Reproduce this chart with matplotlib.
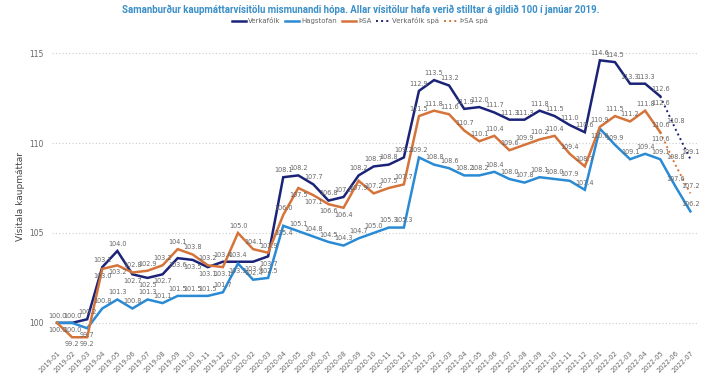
import matplotlib.pyplot as plt
import numpy as np

# months 2019-01 .. 2022-07
months = [f"{y}-{m:02d}" for y in range(2019, 2023) for m in range(1, 13)][:43]

verkafolk = [100.0, 100.0, 100.2, 103.1, 104.0, 102.7, 102.5, 102.7, 103.6, 103.5,
             103.1, 103.4, 103.4, 103.4, 103.7, 108.1, 108.2, 107.7, 106.8, 107.0,
             108.2, 108.7, 108.8, 109.2, 112.9, 113.5, 113.2, 111.9, 112.0, 111.7,
             111.3, 111.3, 111.8, 111.5, 111.0, 110.6, 114.6, 114.5, 113.3, 113.3,
             112.6]
hagstofan = [100.0, 100.0, 99.7, 100.8, 101.3, 100.8, 101.3, 101.1, 101.5, 101.5,
             101.5, 101.7, 103.3, 102.4, 102.5, 105.4, 105.1, 104.8, 104.5, 104.3,
             104.7, 105.0, 105.3, 105.3, 109.2, 108.8, 108.6, 108.2, 108.2, 108.4,
             108.0, 107.8, 108.1, 108.0, 107.9, 107.4, 110.8, 109.9, 109.1, 109.4,
             109.1, 107.6, 106.2]
thsa = [100.0, 99.2, 99.2, 103.0, 103.2, 102.8, 102.9, 103.2, 104.1, 103.8,
        103.2, 103.1, 105.0, 104.1, 103.9, 106.0, 107.5, 107.1, 106.6, 106.4,
        107.9, 107.2, 107.5, 107.7, 111.5, 111.8, 111.6, 110.7, 110.1, 110.4,
        109.6, 109.9, 110.2, 110.4, 109.4, 108.7, 110.9, 111.5, 111.2, 111.8,
        110.6]
verkafolk_spa = [112.6, 110.8, 109.1]   # 2022-05 .. 2022-07
thsa_spa = [110.6, 108.8, 107.2]

NAVY = "#1b2378"
LBLUE = "#2a8ad4"
ORANGE = "#d5743a"
GREY = "#666666"

fig = plt.figure(figsize=(7.13, 3.84), dpi=100)
ax = fig.add_axes([0.073, 0.103, 0.905, 0.768])

x_all = np.arange(len(months))
spa_x = x_all[40:43]

series = [
    ("Verkafólk", x_all[:41], verkafolk, NAVY, "-"),
    ("Hagstofan", x_all, hagstofan, LBLUE, "-"),
    ("ÞSA", x_all[:41], thsa, ORANGE, "-"),
    ("Verkafólk spá", spa_x, verkafolk_spa, NAVY, ":"),
    ("ÞSA spá", spa_x, thsa_spa, ORANGE, ":"),
]

for name, xs, ys, col, ls in series:
    ax.plot(xs, ys, color=col, lw=1.8 if ls == "-" else 1.4, ls=ls, label=name,
            solid_joinstyle="miter")

# data labels: above, unless another line sits just above (or already took the spot)
seen = {}
for k, (name, xs, ys, col, ls) in enumerate(series):
    for xi, yi in zip(xs, ys):
        if seen.get((xi, yi), 0) >= 2:
            continue
        others = [v for j, (_, xs2, ys2, _, _) in enumerate(series) if j != k
                  for x2, v in zip(xs2, ys2) if x2 == xi]
        below = any(0 < v - yi < 0.9 for v in others) or (xi, yi) in seen \
            or (ls == ":" and xi == 40)
        seen[(xi, yi)] = seen.get((xi, yi), 0) + 1
        ax.annotate(f"{yi:.1f}", (xi, yi), xytext=(0, -3 if below else 3),
                    textcoords="offset points", ha="center",
                    va="top" if below else "bottom", fontsize=4.7, color=GREY)

ax.set_xlim(-0.33, 42.46)
ax.set_ylim(98.8, 115.2)
ax.set_yticks([100, 105, 110, 115])
ax.set_xticks(x_all)
ax.set_xticklabels(months, rotation=45, ha="right", rotation_mode="anchor")
ax.tick_params(axis="x", labelsize=4.8, colors=GREY, length=0, pad=4)
ax.tick_params(axis="y", labelsize=5.5, colors=GREY, length=0, pad=6)
ax.grid(axis="y", ls=(0, (1, 2)), color="#cccccc", lw=0.8)
for s in ax.spines.values():
    s.set_visible(False)
ax.set_ylabel("Vísitala kaupmáttar", fontsize=6.5, color="#444444", labelpad=3)

fig.text(0.506, 0.988,
         "Samanburður kaupmáttarvísitölu mismunandi hópa. Allar vísitölur hafa verið stilltar á gildið 100 í janúar 2019.",
         ha="center", va="top", fontsize=6.9, fontweight="bold", color="#3a8fc8",
         family=["Roboto", "DejaVu Sans"])

fig.legend(loc="upper center", bbox_to_anchor=(0.505, 0.972), ncol=5, frameon=False,
           fontsize=5, labelcolor=GREY, handlelength=2.0, handletextpad=0.3,
           columnspacing=0.7)

fig.savefig("out.png", dpi=100)
